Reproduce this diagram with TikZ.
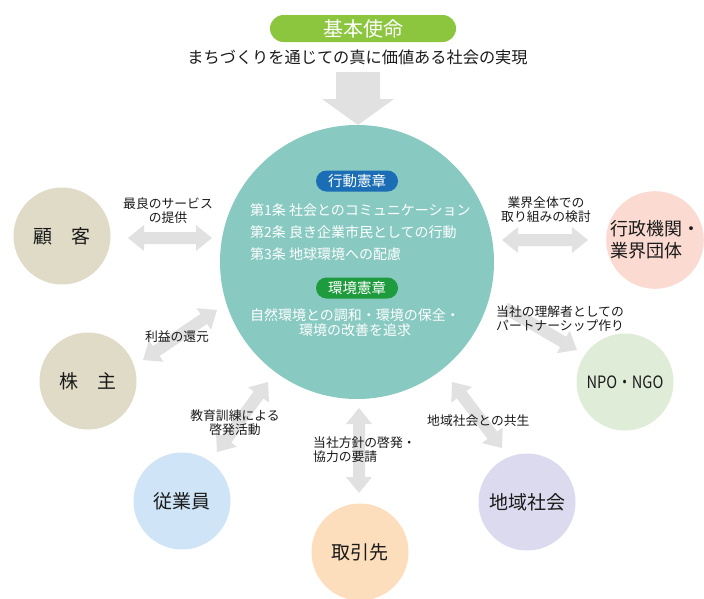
\documentclass[tikz,border=0pt]{standalone}
\usepackage{fontspec}
\setmainfont{Noto Sans CJK JP}
\newfontfamily\npofont[FakeStretch=0.86]{Noto Sans CJK JP}
\usetikzlibrary{calc}
\definecolor{titlegreen}{HTML}{8CC63E}
\definecolor{tealc}{HTML}{88C9C1}
\definecolor{pillblue}{HTML}{1B6EB5}
\definecolor{pillgreen}{HTML}{1E9B3D}
\definecolor{beigec}{HTML}{DFDBC7}
\definecolor{pinkc}{HTML}{FBDBD1}
\definecolor{lgreenc}{HTML}{DEECD8}
\definecolor{lbluec}{HTML}{CFE5F7}
\definecolor{peachc}{HTML}{FCDEBC}
\definecolor{lavc}{HTML}{DCDAEE}
\definecolor{arrowgray}{HTML}{E1E1E1}
\definecolor{txtc}{HTML}{1A1A1A}
\newcommand{\dblarrow}[2]{%
  \coordinate (hA) at ($(#1)!16pt!(#2)$);
  \coordinate (hB) at ($(#2)!16pt!(#1)$);
  \fill[arrowgray] (#1) -- ($(hA)!13pt!90:(#2)$) -- ($(hA)!6pt!90:(#2)$)
    -- ($(hB)!6pt!-90:(#1)$) -- ($(hB)!13pt!-90:(#1)$) -- (#2)
    -- ($(hB)!13pt!90:(#1)$) -- ($(hB)!6pt!90:(#1)$)
    -- ($(hA)!6pt!-90:(#2)$) -- ($(hA)!13pt!-90:(#2)$) -- cycle;}
\newcommand{\sglarrow}[2]{%
  \coordinate (hB) at ($(#2)!16pt!(#1)$);
  \fill[arrowgray] ($(#1)!6pt!90:(#2)$)
    -- ($(hB)!6pt!-90:(#1)$) -- ($(hB)!13pt!-90:(#1)$) -- (#2)
    -- ($(hB)!13pt!90:(#1)$) -- ($(hB)!6pt!90:(#1)$)
    -- ($(#1)!6pt!-90:(#2)$) -- cycle;}
\begin{document}
\begin{tikzpicture}[x=1pt,y=-1pt,
  party/.style={circle, minimum size=97pt, inner sep=0pt, text=txtc,
    font=\fontsize{19}{22}\selectfont},
  lbl/.style={inner sep=0pt, text=txtc, font=\fontsize{12.8}{14}\selectfont},
  wtxt/.style={inner sep=0pt, text=white, font=\fontsize{14}{15.5}\selectfont},
  pill/.style={rounded corners=10.5pt, inner sep=0pt, text=white,
    minimum width=82pt, minimum height=21pt, font=\fontsize{14.5}{16}\selectfont}]
\useasboundingbox (0,0) rectangle (704,598);
% title
\node[pill, fill=titlegreen, rounded corners=13.5pt, minimum width=186pt,
  minimum height=27pt, font=\fontsize{20}{22}\selectfont] (mission) at (363,28.5) {基本使命};
\node[inner sep=0pt, text=txtc, font=\fontsize{16.2}{18}\selectfont] (vision) at (357.5,57)
  {まちづくりを通じての真に価値ある社会の実現};
% down arrow
\fill[arrowgray] (336,72) -- (380,72) -- (380,99) -- (394,99) -- (358,125)
  -- (322,99) -- (336,99) -- cycle;
% center circle
\node[circle, fill=tealc, minimum size=274pt, inner sep=0pt] (core) at (357,262) {};
\node[pill, fill=pillblue] (kodo) at (357,181) {行動憲章};
\node[wtxt, anchor=west] (r1) at (250,210) {第1条 社会とのコミュニケーション};
\node[wtxt, anchor=west] (r2) at (250,232) {第2条 良き企業市民としての行動};
\node[wtxt, anchor=west] (r3) at (250,254) {第3条 地球環境への配慮};
\node[pill, fill=pillgreen] (kankyo) at (357,288) {環境憲章};
\node[wtxt, align=center] (env) at (355,322.5) {自然環境との調和・環境の保全・\\環境の改善を追求};
% stakeholders
\node[party, fill=beigec] (kokyaku) at (62,236) {顧　客};
\node[party, fill=pinkc, align=left, font=\fontsize{18}{22}\selectfont] (gyosei) at (655,240) {行政機関・\\業界団体};
\node[party, fill=beigec] (kabunushi) at (88,381) {株　主};
\node[party, fill=lgreenc, font=\npofont\fontsize{17}{20}\selectfont] (npo) at (625,382) {NPO・NGO};
\node[party, fill=lbluec] (jugyoin) at (182,501) {従業員};
\node[party, fill=lavc] (chiiki) at (527,502) {地域社会};
\node[party, fill=peachc] (torihiki) at (360,552) {取引先};
% arrow end points
\coordinate (k1) at (128,238);  \coordinate (k2) at (212,238);
\coordinate (g1) at (502,240);  \coordinate (g2) at (588,240);
\coordinate (s1) at (143,360);  \coordinate (s2) at (217,310);
\coordinate (j1) at (217,452);  \coordinate (j2) at (268,382);
\coordinate (t1) at (359,408);  \coordinate (t2) at (359,493);
\coordinate (c1) at (452,382);  \coordinate (c2) at (502,448);
\coordinate (n1) at (505,308);  \coordinate (n2) at (577,350);
\dblarrow{k1}{k2}
\dblarrow{g1}{g2}
\dblarrow{s1}{s2}
\dblarrow{j1}{j2}
\dblarrow{t1}{t2}
\dblarrow{c1}{c2}
\sglarrow{n1}{n2}
% labels
\node[lbl, align=center] (lk) at (168,211) {最良のサービス\\の提供};
\node[lbl, align=center] (lg) at (546,210) {業界全体での\\取り組みの検討};
\node[lbl] (ls) at (177,337) {利益の還元};
\node[lbl, align=center] (lj) at (235,422.5) {教育訓練による\\啓発活動};
\node[lbl, align=left, anchor=west] (lt) at (313,450) {当社方針の啓発・\\協力の要請};
\node[lbl, align=left, anchor=west] (ln) at (496,318.5) {当社の理解者としての\\パートナーシップ作り};
\node[lbl, anchor=west] (lc) at (427,421) {地域社会との共生};
\end{tikzpicture}
\end{document}
